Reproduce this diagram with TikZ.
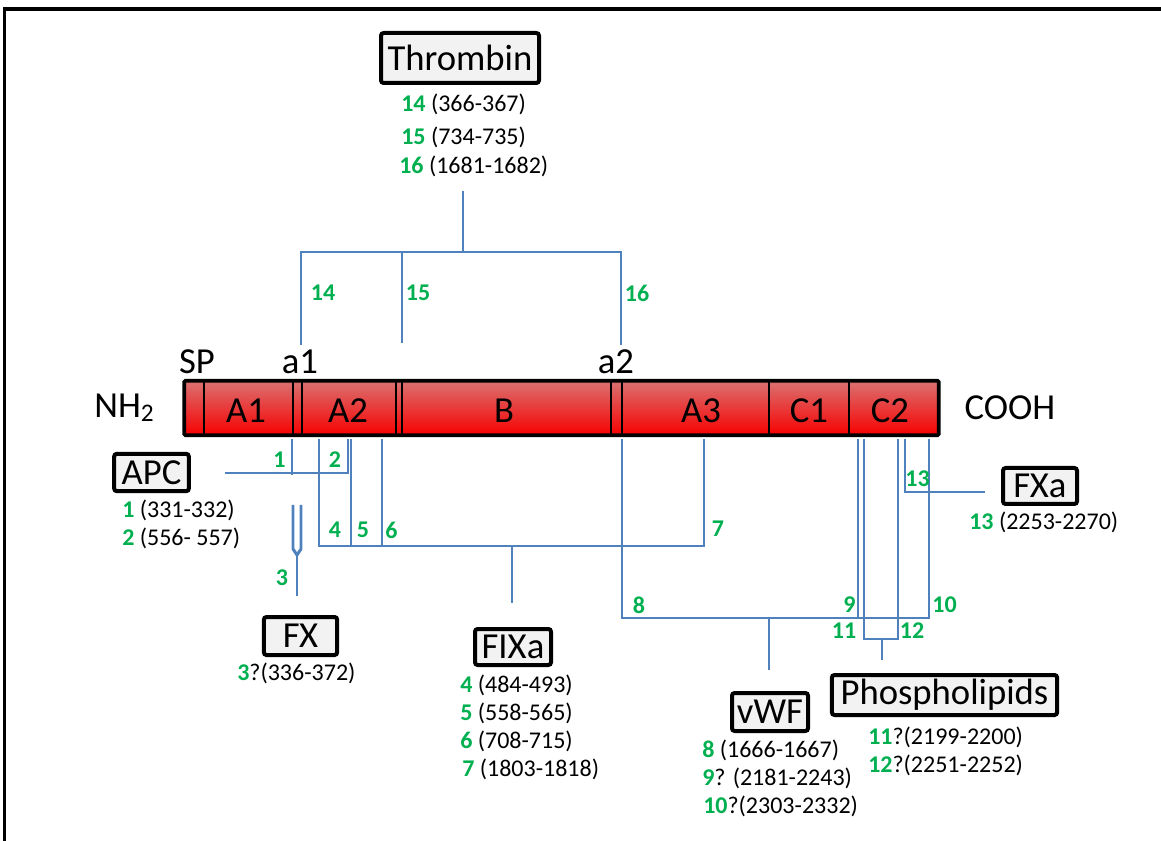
\documentclass[tikz,border=0pt]{standalone}
\usepackage{fontspec}
\setmainfont{Carlito}
\definecolor{lnblue}{HTML}{4F81BD}
\definecolor{numgreen}{HTML}{00B050}
\definecolor{boxgray}{HTML}{F2F2F2}
\definecolor{barTop}{HTML}{DB7272}
\definecolor{barMid}{HTML}{E40000}
\definecolor{barBot}{HTML}{F70000}
\newcommand\gn[1]{\textcolor{numgreen}{\bfseries #1}}
\begin{document}
\begin{tikzpicture}[x=0.75pt,y=-0.75pt,
  conn/.style={draw=lnblue,line width=2.2pt},
  boxlabel/.style={draw=black,line width=3pt,fill=boxgray,rounded corners=2pt,inner sep=0pt,font=\fontsize{27.5}{30}\selectfont},
  big/.style={font=\fontsize{27.5}{30}\selectfont,inner sep=0pt},
  small/.style={font=\fontsize{18}{21}\selectfont,inner sep=0pt,anchor=west},
  num/.style={font=\fontsize{18}{21}\selectfont\bfseries,text=numgreen,inner sep=0pt},
  divider/.style={draw=black,line width=0.8pt}
]
\useasboundingbox (0,0) rectangle (1161,841);
% frame
\draw[line width=2.8pt] (4.5,841) -- (4.5,9) -- (1161,9);

% bar
\node[draw=black,line width=2.8pt,top color=barTop,middle color=barMid,bottom color=barBot,
      minimum width=566pt,minimum height=41pt,inner sep=0pt,rounded corners=1pt] (bar) at (561.5,408) {};
\foreach \xx in {204,293,302,396,402,611,622,769,849}{
  \draw[divider] (\xx,380.5) -- (\xx,435.5);
}
\node[big] (A1) at (246,411) {A1};
\node[big] (A2) at (348,411) {A2};
\node[big] (B)  at (504,411) {B};
\node[big] (A3) at (701,411) {A3};
\node[big] (C1) at (809,411) {C1};
\node[big] (C2) at (890,411) {C2};
\node[big] (sp) at (197,362) {SP};
\node[big] (a1) at (300,362) {a1};
\node[big] (a2) at (616,362) {a2};
\node[big] (nh) at (124,408) {NH\raisebox{-0.12em}{\fontsize{19}{19}\selectfont 2}};
\node[big] (cooh) at (1010,408) {COOH};

% boxes
\node[boxlabel,minimum width=118.5pt,minimum height=37.5pt] (thr) at (460,58) {Thrombin};
\node[boxlabel,minimum width=56pt,minimum height=28pt] (apc) at (151.5,472.5) {APC};
\node[boxlabel,minimum width=55pt,minimum height=28.5pt] (fx) at (300.5,636) {FX};
\node[boxlabel,minimum width=57pt,minimum height=27pt] (fixa) at (513,647) {FIXa};
\node[boxlabel,minimum width=57pt,minimum height=28.5pt] (vwf) at (770,712) {vWF};
\node[boxlabel,minimum width=169pt,minimum height=30pt] (pl) at (944.5,695) {Phospholipids};
\node[boxlabel,minimum width=55.5pt,minimum height=27pt] (fxa) at (1040,486) {FXa};

% site lists
\node[small] (t14) at (401,104) {\gn{14} (366-367)};
\node[small] (t15) at (401,137) {\gn{15} (734-735)};
\node[small] (t16) at (399,166) {\gn{16} (1681-1682)};
\node[small] (p1) at (122,510) {\gn{1} (331-332)};
\node[small] (p2) at (122,538) {\gn{2} (556- 557)};
\node[small] (p3) at (237,673) {\gn{3}?(336-372)};
\node[small] (p4) at (460,685) {\gn{4} (484-493)};
\node[small] (p5) at (460,713) {\gn{5} (558-565)};
\node[small] (p6) at (460,741) {\gn{6} (708-715)};
\node[small] (p7) at (462,769) {\gn{7} (1803-1818)};
\node[small] (p8) at (702,750) {\gn{8} (1666-1667)};
\node[small] (p9) at (702,778) {\gn{9}? (2181-2243)};
\node[small] (p10) at (703,806) {\gn{10}?(2303-2332)};
\node[small] (p11) at (868,737.5) {\gn{11}?(2199-2200)};
\node[small] (p12) at (868,765.5) {\gn{12}?(2251-2252)};
\node[small] (p13) at (969,522) {\gn{13} (2253-2270)};

% thrombin tree
\coordinate (thrT) at (463,191);
\coordinate (thrJ) at (463,252);
\coordinate (c14) at (301,345);
\coordinate (c15) at (402,343);
\coordinate (c16) at (621,345);
\draw[conn] (thrT) -- (thrJ);
\draw[conn] (c14) -- (c14 |- thrJ) -- (c16 |- thrJ) -- (c16);
\draw[conn] (c15) -- (c15 |- thrJ);

% below bar
\def\bb{439}
\draw[conn] (292,\bb) -- (292,475);
\draw[conn] (225,473) -- (349,473);
\draw[conn] (348,\bb) -- (348,473);
\draw[conn] (351,\bb) -- (351,546);
\draw[conn] (319,\bb) -- (319,546) -- (704,546) -- (704,\bb);
\draw[conn] (382,\bb) -- (382,546);
\draw[conn] (512,546) -- (512,603);
\draw[conn,line join=round] (293,505) -- (293,549) -- (297,555) -- (301,549) -- (301,505);
\draw[conn] (297,555) -- (297,596);
\draw[conn] (622,\bb) -- (622,618) -- (929,618) -- (929,\bb);
\draw[conn] (858,\bb) -- (858,618);
\draw[conn] (864,\bb) -- (864,639) -- (898,639) -- (898,\bb);
\draw[conn] (882,639) -- (882,660);
\draw[conn] (769,618) -- (769,670);
\draw[conn] (905,\bb) -- (905,492) -- (985,492);

% connector labels
\node[num] at (279.5,460) {1};
\node[num] at (335,460) {2};
\node[num] at (335,530) {4};
\node[num] at (363,530) {5};
\node[num] at (391.5,530) {6};
\node[num] at (282,578) {3};
\node[num] at (718,529) {7};
\node[num] at (639,605) {8};
\node[num] at (849.5,605) {9};
\node[num] at (944.5,605) {10};
\node[num] at (844,631) {11};
\node[num] at (912,631) {12};
\node[num] at (917.5,479) {13};
\node[num] at (323,293) {14};
\node[num] at (418,293) {15};
\node[num] at (637,293) {16};
\end{tikzpicture}
\end{document}
